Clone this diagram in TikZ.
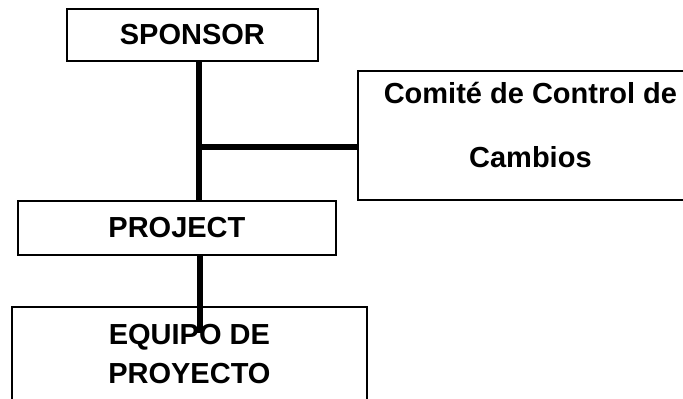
\documentclass[tikz,border=0pt]{standalone}
\usepackage{fontspec}
\setmainfont{Liberation Sans}
\usetikzlibrary{positioning}
\tikzset{
  unit/.style={draw=black,line width=0.9pt,anchor=north west,inner sep=0pt,
               align=center,font=\fontsize{14.5}{19.5}\selectfont\bfseries},
  link/.style={line width=2.6pt,draw=black}
}
\begin{document}
\begin{tikzpicture}[x=0.5pt,y=-0.5pt]
\useasboundingbox (0,0) rectangle (683,398);
\node[unit,minimum width=125.5pt,minimum height=26pt] (sponsor) at (66,8) {SPONSOR};
\node[unit,minimum width=172.5pt,minimum height=64.5pt,
      font=\fontsize{14.5}{32}\selectfont\bfseries] (comite) at (357,70)
      {Comité de Control de\\Cambios\rule[-11pt]{0pt}{0pt}};
\node[unit,minimum width=159pt,minimum height=27pt] (project) at (17,200) {PROJECT};
\node[unit,minimum width=177.5pt,minimum height=47.5pt] (equipo) at (11,306)
      {EQUIPO DE\\PROYECTO};
\coordinate (joint) at (199,147);
\coordinate (tail) at (200,333);
\draw[link] (sponsor.south -| joint) -- (project.north -| joint);
\draw[link] (joint) -- (joint -| comite.west);
\draw[link] (project.south -| tail) -- (tail);
\end{tikzpicture}
\end{document}
